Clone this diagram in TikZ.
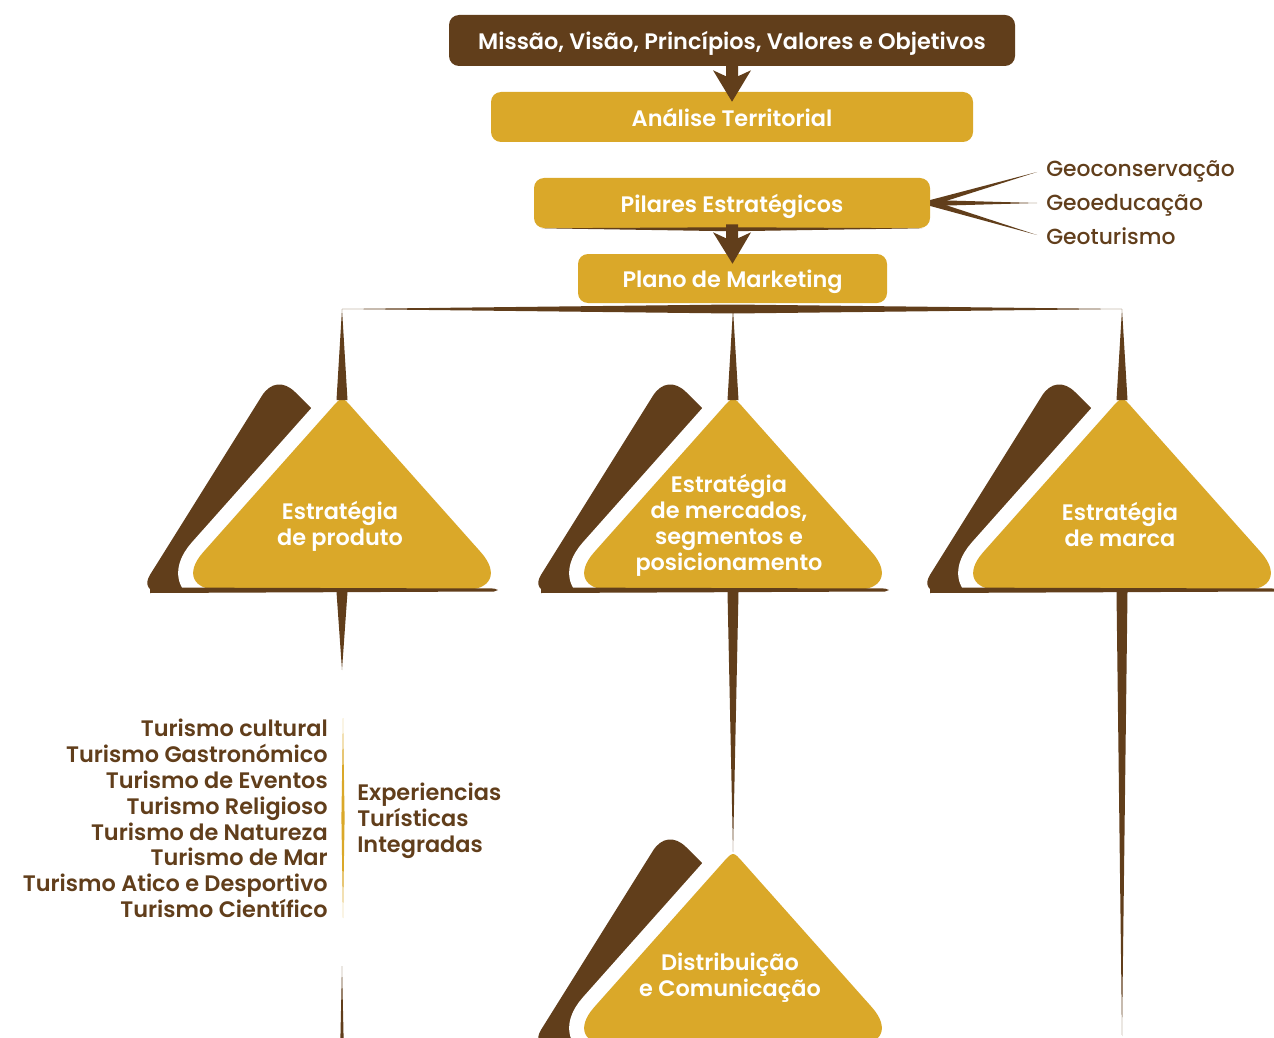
\documentclass[tikz,border=0pt]{standalone}
\usepackage{fontspec}
\setmainfont{Poppins}[BoldFont={Poppins SemiBold}]
\newfontfamily\medfont{Poppins Medium}
\usetikzlibrary{calc}
\definecolor{bark}{RGB}{97,62,27}
\definecolor{ochre}{RGB}{218,168,41}
\tikzset{
  txt/.style={inner sep=0pt, font=\bfseries\fontsize{16.8pt}{19.4pt}\selectfont},
  box/.style={txt, text height=15.2pt, text depth=1.15pt, rounded corners=7.5pt, text=white},
  lbl/.style={txt, text=bark},
  geo/.style={inner sep=0pt, text height=13.8pt, text depth=1.2pt, text=bark, font=\medfont\fontsize{16.4pt}{19.4pt}\selectfont},
  tri/.style={txt, text=white, align=center},
}
% stepped triangle: brown back plate, white gap, ochre front plate
% #1 = centre x, #2 = vertical shift
\newcommand\pyramid[2]{%
  \fill[bark] (#1-100,592+#2) -- (#1-182.6,592+#2)
     .. controls (#1-193.6,592+#2) and (#1-197.9,584.4+#2) .. (#1-192.1,575+#2)
     -- (#1-80.2,396+#2)
     .. controls (#1-71.7,382.2+#2) and (#1-58.4,380.6+#2) .. (#1-46.9,392.1+#2)
     -- (#1+14,453+#2) -- (#1+100,592+#2) -- cycle;
  \draw[white, line width=22.5pt, line join=round, fill=ochre]
     (#1-122,590+#2) -- (#1+122,590+#2)
     .. controls (#1+149.5,590+#2) and (#1+157.2,573.1+#2) .. (#1+139,552.4+#2)
     -- (#1+10.5,408+#2) .. controls (#1,396+#2) .. (#1-10.5,408+#2)
     -- (#1-139,552.4+#2)
     .. controls (#1-157.2,573.1+#2) and (#1-149.5,590+#2) .. (#1-122,590+#2) -- cycle;
  \fill[ochre]
     (#1-122,590+#2) -- (#1+122,590+#2)
     .. controls (#1+149.5,590+#2) and (#1+157.2,573.1+#2) .. (#1+139,552.4+#2)
     -- (#1+10.5,408+#2) .. controls (#1,396+#2) .. (#1-10.5,408+#2)
     -- (#1-139,552.4+#2)
     .. controls (#1-157.2,573.1+#2) and (#1-149.5,590+#2) .. (#1-122,590+#2) -- cycle;
}
% heavy down arrow between two boxes
\newcommand\heavyarrow[2]{%
  \fill[bark] ($(#1.south)+(-6,-4)$) -- ($(#1.south)+(6,-4)$) -- ($(#1.south)+(6,10)$)
    -- ($(#1.south)+(19,4)$) -- ($(#2.north)+(0,10)$) -- ($(#1.south)+(-19,4)$)
    -- ($(#1.south)+(-6,10)$) -- cycle;
}
\begin{document}
\begin{tikzpicture}[x=0.75pt,y=-0.75pt]
\useasboundingbox (0,0) rectangle (1274,1038);
\clip (0,0) rectangle (1274,1038);

% header boxes
\node[box, fill=bark, minimum width=566*0.75pt, minimum height=51*0.75pt] (mission) at (732,40.5) {Missão, Visão, Princípios, Valores e Objetivos};
\node[box, fill=ochre, minimum width=482*0.75pt, minimum height=50*0.75pt] (analise) at (732,117) {Análise Territorial};
\node[box, fill=ochre, minimum width=396*0.75pt, minimum height=50*0.75pt] (pilares) at (732,203) {Pilares Estratégicos};
\node[box, fill=ochre, minimum width=309*0.75pt, minimum height=49*0.75pt] (plano) at (732.5,278.5) {Plano de Marketing};

% shadow under Pilares
\fill[bark] ($(pilares.south west)+(8,0)$) -- ($(pilares.south)+(0,-1)$) -- ($(pilares.south east)+(-8,0)$) -- ($(pilares.south)+(0,3)$) -- cycle;

\heavyarrow{mission}{analise}
\heavyarrow{pilares}{plano}

% pillars branching off
\coordinate (g1) at (1037,172);
\coordinate (g2) at (1037,203);
\coordinate (g3) at (1037,235);
\foreach \g in {g1,g2,g3}
  \fill[bark] ($(pilares.east)+(0,-3)$) -- (\g) -- ($(pilares.east)+(0,3)$) -- cycle;
\node[geo, anchor=west] (geo1) at (1046,168) {Geoconservação};
\node[geo, anchor=west] (geo2) at (1046,202) {Geoeducação};
\node[geo, anchor=west] (geo3) at (1046,236) {Geoturismo};

% horizontal distribution bar
\coordinate (barL) at (342,309);
\coordinate (barR) at (1122,309);
\fill[bark] (barL) -- (733,304.5) -- (barR) -- (733,313.5) -- cycle;

% strategy triangles
\pyramid{342}{0}
\pyramid{733}{0}
\pyramid{1122}{0}
\pyramid{733}{455}

% base strips
\foreach \cx in {342,733,1122}
  \fill[bark] (\cx-192,587.5) -- (\cx+152,588.5) -- (\cx+156,590) -- (\cx+152,591.5) -- (\cx-192,593) -- cycle;

% spikes from the bar to the triangles
\foreach \cx in {342,733,1122}
  \fill[bark] (\cx,309) -- (\cx+5.5,400) -- (\cx-5.5,400) -- cycle;

% spikes below the triangles
\fill[bark] (336.5,592) -- (347.5,592) -- (342,670) -- cycle;
\fill[bark] (727.5,592) -- (738.5,592) -- (733,852) -- cycle;
\fill[bark] (1116.5,592) -- (1127.5,592) -- (1122,1036) -- cycle;
\fill[bark] (342,966) -- (343.6,1038) -- (340.4,1038) -- cycle;

% triangle captions
\node[tri] (produto) at (340,526) {Estratégia\\de produto};
\node[tri] (mercados) at (729,525.5) {Estratégia\\de mercados,\\segmentos e\\posicionamento};
\node[tri] (marca) at (1120,524.5) {Estratégia\\de marca};
\node[tri] (distrib) at (730,978) {Distribuição\\e Comunicação};

% product list
\fill[ochre] (343,718) -- (344.6,818) -- (343,918) -- (341.4,818) -- cycle;
\node[lbl, align=right, anchor=east] (lista) at (328,818.5) {Turismo cultural\\Turismo Gastronómico\\Turismo de Eventos\\Turismo Religioso\\Turismo de Natureza\\Turismo de Mar\\Turismo Atico e Desportivo\\Turismo Científico};
\node[lbl, align=left, anchor=west] (exper) at (357,821) {Experiencias\\Turísticas\\Integradas};
\end{tikzpicture}
\end{document}
